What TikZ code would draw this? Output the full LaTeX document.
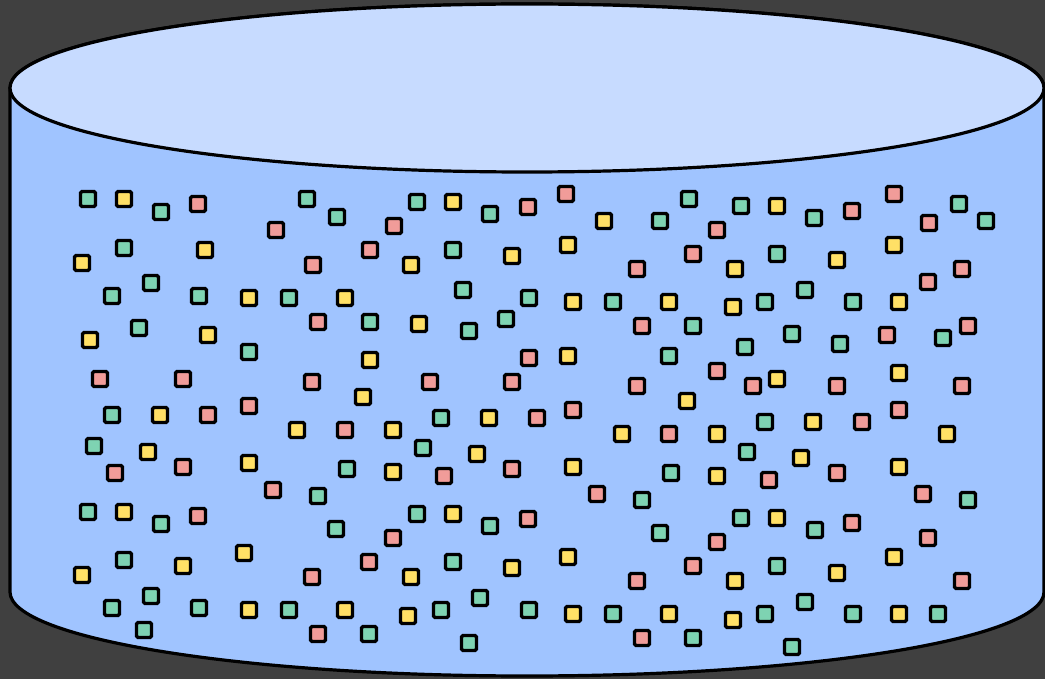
\documentclass[tikz,border=0pt]{standalone}
\definecolor{bg}{HTML}{404040}
\definecolor{body}{HTML}{A0C4FF}
\definecolor{topc}{HTML}{C7DBFF}
\definecolor{cG}{HTML}{7ED3B2}
\definecolor{cY}{HTML}{FFE066}
\definecolor{cP}{HTML}{F19C99}
\begin{document}
\begin{tikzpicture}[x=1pt,y=-1pt,
  cyl/.style={draw=black, line width=3.2pt},
  sq/.style={draw=black, line width=3.3pt, rounded corners=1.5pt, minimum size=15pt, inner sep=0pt, outer sep=0pt}]
\fill[bg] (0,0) rectangle (1045,679);
\useasboundingbox (0,0) rectangle (1045,679);
\draw[cyl, fill=body] (10,88) -- (10,592) arc[start angle=180, end angle=0, x radius=517, y radius=84] -- (1044,88) arc[start angle=0, end angle=-180, x radius=517, y radius=84] -- cycle;
\draw[cyl, fill=topc] (527,88) ellipse[x radius=517, y radius=84];
\foreach \x/\y/\c [count=\i] in {
88/199/G,124/199/Y,161/212/G,198/204/P,307/199/G,276/230/P,124/248/G,205/250/Y,82/263/Y,313/265/P,
151/283/G,112/296/G,199/296/G,249/298/Y,289/298/G,139/328/G,208/335/Y,90/340/Y,249/352/G,100/379/P,
183/379/P,312/382/P,249/406/P,337/217/G,417/202/G,453/202/Y,490/214/G,528/207/P,394/226/P,370/250/P,
453/250/G,512/256/Y,411/265/Y,463/290/G,529/298/G,345/298/Y,318/322/P,370/322/G,419/324/Y,469/331/G,
506/319/G,370/360/Y,529/358/P,430/382/P,512/382/P,363/397/Y,566/194/P,689/199/G,741/206/G,777/206/Y,
604/221/Y,660/221/G,717/230/P,568/245/Y,693/254/P,777/254/G,637/269/P,735/269/Y,573/302/Y,613/302/G,
669/302/Y,733/307/Y,765/302/G,642/326/P,693/326/G,792/334/G,745/347/G,568/356/Y,669/356/G,717/371/P,
753/386/P,777/379/Y,637/386/P,687/401/Y,573/410/P,894/194/P,959/204/G,986/221/G,852/211/P,814/218/G,
929/223/P,894/245/Y,837/260/Y,962/269/P,928/282/P,805/290/G,853/302/G,899/302/Y,968/326/P,887/335/P,
943/338/G,840/344/G,899/373/Y,837/386/P,962/386/P,899/410/P,
112/415/G,160/415/Y,208/415/P,297/430/Y,94/446/G,148/452/Y,183/467/P,115/473/P,249/463/Y,273/490/P,
88/512/G,124/512/Y,161/524/G,198/516/P,244/553/Y,124/560/G,183/566/Y,82/575/Y,312/577/P,151/596/G,
112/608/G,199/608/G,249/610/Y,289/610/G,144/630/G,345/430/P,393/430/Y,441/418/G,489/418/Y,537/418/P,
423/448/G,477/454/Y,347/469/G,393/472/Y,444/476/P,512/469/P,318/496/G,417/514/G,453/514/Y,490/526/G,
528/519/P,336/529/G,393/538/P,369/562/P,453/562/G,512/568/Y,411/577/Y,480/598/G,345/610/Y,408/616/Y,
441/610/G,529/610/G,318/634/P,369/634/G,469/643/G,622/434/Y,669/434/P,717/434/Y,765/422/G,747/452/G,
573/467/Y,671/473/G,717/476/Y,769/480/P,597/494/P,642/500/G,741/518/G,777/518/Y,660/533/G,717/542/P,
568/557/Y,693/566/P,777/566/G,637/581/P,735/581/Y,573/614/Y,613/614/G,669/614/Y,733/620/Y,765/614/G,
642/638/P,693/638/G,792/647/G,813/422/Y,862/422/P,947/434/Y,801/458/Y,899/467/Y,837/473/P,923/494/P,
968/500/G,815/530/G,852/523/P,928/538/P,894/557/Y,837/573/Y,962/581/P,805/602/G,853/614/G,899/614/Y,
938/614/G}
  \node[sq, fill=c\c] (s\i) at (\x,\y) {};
\end{tikzpicture}
\end{document}
